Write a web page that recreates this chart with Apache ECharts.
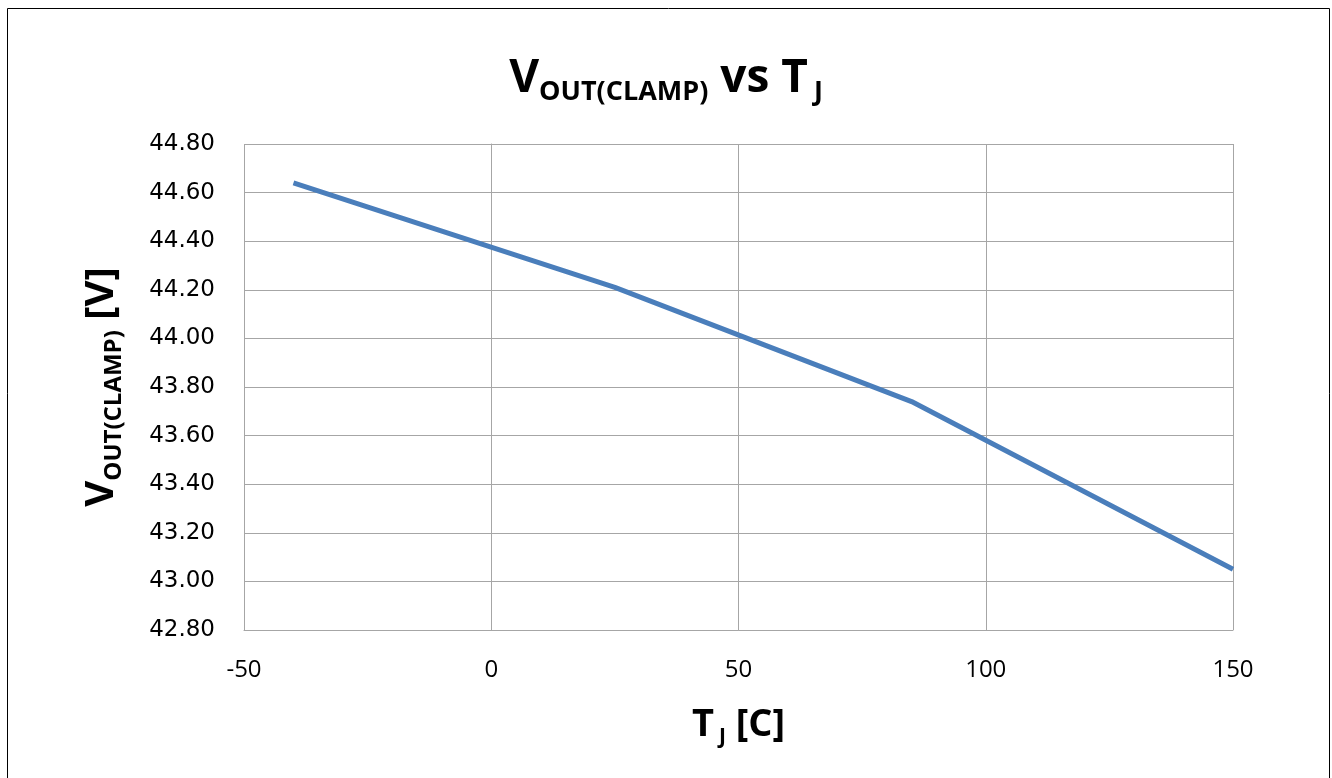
<!DOCTYPE html>
<html>
<head>
<meta charset="utf-8">
<script src="https://cdn.jsdelivr.net/npm/echarts@6/dist/echarts.min.js"></script>
<style>html,body{margin:0;padding:0;background:#fff;}#c{width:1332px;height:778px;}</style>
</head>
<body>
<div id="c"></div>
<script>
const temps = [-40, 25, 85, 150];
const vclamp = [44.64, 44.21, 43.74, 43.05];
const xTicks = { min: -50, max: 150, interval: 50 };
const yTicks = { min: 42.8, max: 44.8, interval: 0.2 };

const chart = echarts.init(document.getElementById('c'));
const titleFont = 'Open Sans';
chart.setOption({
  animation: false,
  backgroundColor: '#fff',
  graphic: [{
    type: 'rect', silent: true,
    shape: { x: 7.5, y: 8.5, width: 1322, height: 800 },
    style: { fill: 'none', stroke: '#000', lineWidth: 1 }
  }],
  title: {
    left: 'center', top: 47,
    text: '{big|V}{sub|OUT(CLAMP)}{big| vs T}{subj|J}',
    textStyle: {
      rich: {
        big: { fontFamily: titleFont, fontWeight: 'bold', fontSize: 46, lineHeight: 54, color: '#000' },
        sub: { fontFamily: titleFont, fontWeight: 'bold', fontSize: 27, lineHeight: 54, verticalAlign: 'bottom', color: '#000' },
        subj: { fontFamily: titleFont, fontWeight: 'bold', fontSize: 27, lineHeight: 54, verticalAlign: 'bottom', color: '#000', padding: [0, 0, 0, 6] }
      }
    }
  },
  grid: { left: 244, right: 99, top: 144, bottom: 148 },
  xAxis: {
    type: 'value', min: xTicks.min, max: xTicks.max, interval: xTicks.interval,
    axisLine: { show: true, lineStyle: { color: '#a6a6a6', width: 1 } },
    axisTick: { show: false },
    splitLine: { show: true, lineStyle: { color: '#a6a6a6', width: 1 } },
    axisLabel: { margin: 28, fontFamily: 'Open Sans', fontSize: 24, color: '#000' },
    name: '{b|T}{s|J}{b| [C]}',
    nameLocation: 'middle', nameGap: 72,
    nameTextStyle: {
      rich: {
        b: { fontFamily: titleFont, fontWeight: 'bold', fontSize: 38, lineHeight: 46, color: '#000' },
        s: { fontFamily: titleFont, fontWeight: 'bold', fontSize: 21, lineHeight: 46, verticalAlign: 'bottom', color: '#000', padding: [0, 0, 0, 5] }
      }
    }
  },
  yAxis: {
    type: 'value', min: yTicks.min, max: yTicks.max, interval: yTicks.interval,
    axisLine: { show: true, lineStyle: { color: '#a6a6a6', width: 1 } },
    axisTick: { show: false },
    splitLine: { show: true, lineStyle: { color: '#a6a6a6', width: 1 } },
    axisLabel: { margin: 29, fontFamily: 'DejaVu Sans', fontSize: 23, color: '#000',
      formatter: v => v.toFixed(2) },
    name: '{b|V}{s|OUT(CLAMP)}{b| [V]}',
    nameLocation: 'middle', nameGap: 118, nameRotate: 90,
    nameTextStyle: {
      rich: {
        b: { fontFamily: titleFont, fontWeight: 'bold', fontSize: 40, lineHeight: 48, color: '#000' },
        s: { fontFamily: titleFont, fontWeight: 'bold', fontSize: 24, lineHeight: 48, verticalAlign: 'bottom', color: '#000' }
      }
    }
  },
  series: [{
    type: 'line',
    data: temps.map((t, i) => [t, vclamp[i]]),
    showSymbol: false,
    lineStyle: { color: '#4a7ebb', width: 5 },
    itemStyle: { color: '#4a7ebb' }
  }]
});
</script>
</body>
</html>
